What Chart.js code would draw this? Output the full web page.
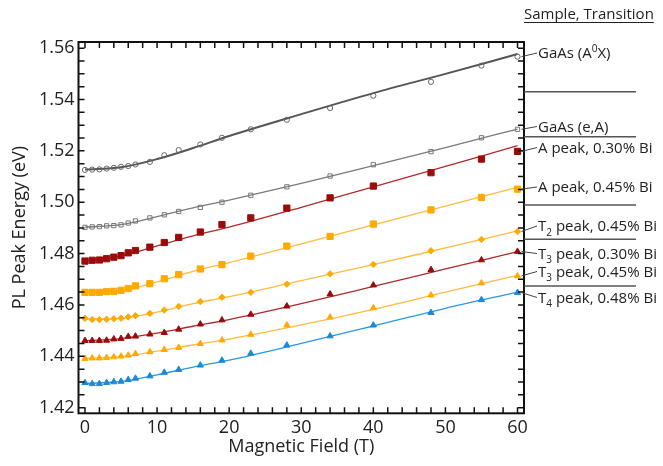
<!DOCTYPE html>
<html>
<head>
<meta charset="utf-8">
<script src="https://cdn.jsdelivr.net/npm/chart.js@4.4.1/dist/chart.umd.min.js"></script>
<style>
html,body{margin:0;padding:0;background:#fff}
#wrap{width:663px;height:466px}
</style>
</head>
<body>
<div id="wrap"><canvas id="c"></canvas></div>
<script>
// measured field values (T)
var fieldT = [0,1,2,3,4,5,6,7,9,11,13,16,19,23,28,34,40,48,55,60];

// PL peak energies (eV)
var gaasA0X = [1.5126,1.5127,1.5128,1.5131,1.5134,1.5138,1.5141,1.5147,1.5157,1.5183,1.5203,1.5225,1.5251,1.5284,1.5321,1.5367,1.5415,1.5469,1.5532,1.5567];
var gaasEA  = [1.4902,1.4904,1.4905,1.4908,1.4909,1.4912,1.4919,1.4927,1.4939,1.4951,1.4964,1.4980,1.5000,1.5027,1.5060,1.5102,1.5146,1.5197,1.5251,1.5284];
var aPeak30 = [1.4771,1.4774,1.4775,1.4780,1.4786,1.4792,1.4803,1.4812,1.4825,1.4843,1.4863,1.4884,1.4913,1.4939,1.4977,1.5017,1.5063,1.5115,1.5168,1.5198];
var aPeak45 = [1.4649,1.4649,1.4649,1.4652,1.4653,1.4657,1.4664,1.4674,1.4683,1.4702,1.4718,1.4740,1.4757,1.4790,1.4829,1.4867,1.4915,1.4970,1.5019,1.5051];
var t2Peak45 = [1.4548,1.4543,1.4543,1.4544,1.4546,1.4548,1.4553,1.4558,1.4567,1.4580,1.4594,1.4613,1.4630,1.4649,1.4681,1.4721,1.4758,1.4811,1.4855,1.4886];
var t3Peak30 = [1.4461,1.4461,1.4461,1.4462,1.4467,1.4469,1.4477,1.4478,1.4486,1.4492,1.4505,1.4525,1.4541,1.4563,1.4595,1.4642,1.4677,1.4737,1.4775,1.4808];
var t3Peak45 = [1.4391,1.4393,1.4393,1.4395,1.4397,1.4400,1.4404,1.4410,1.4417,1.4426,1.4434,1.4449,1.4463,1.4485,1.4521,1.4552,1.4588,1.4638,1.4685,1.4713];
var t4Peak48 = [1.4297,1.4293,1.4293,1.4297,1.4300,1.4302,1.4309,1.4314,1.4323,1.4337,1.4348,1.4365,1.4384,1.4411,1.4443,1.4479,1.4521,1.4570,1.4620,1.4648];

// fitted curves at these fields
var fitT = [0,5,10,15,20,30,40,50,60];
var fitA0X  = [1.5127,1.5136,1.5168,1.5211,1.5258,1.5343,1.5425,1.5500,1.5577];
var fitEA   = [1.4903,1.4913,1.4944,1.4978,1.5008,1.5073,1.5143,1.5213,1.5285];
var fitA30  = [1.4772,1.4790,1.4830,1.4869,1.4903,1.4980,1.5060,1.5140,1.5220];
var fitA45  = [1.4650,1.4656,1.4690,1.4731,1.4765,1.4838,1.4912,1.4985,1.5058];
var fitT2   = [1.4545,1.4548,1.4572,1.4605,1.4632,1.4695,1.4757,1.4822,1.4888];
var fitT3a  = [1.4461,1.4469,1.4490,1.4517,1.4543,1.4605,1.4672,1.4740,1.4808];
var fitT3b  = [1.4392,1.4399,1.4420,1.4444,1.4467,1.4522,1.4583,1.4650,1.4715];
var fitT4   = [1.4294,1.4302,1.4328,1.4358,1.4385,1.4450,1.4518,1.4587,1.4650];

var seriesNames = ['GaAs (A^0X)','GaAs (e,A)','A peak, 0.30% Bi','A peak, 0.45% Bi',
                   'T_2 peak, 0.45% Bi','T_3 peak, 0.30% Bi','T_3 peak, 0.45% Bi','T_4 peak, 0.48% Bi'];

var FONT = '"Open Sans", "Noto Sans", sans-serif';

function pts(xs, ys) {
  return xs.map(function (x, i) { return {x: x, y: ys[i]}; });
}

// one entry per series: points, fit, marker style
var series = [
  {d: gaasA0X, f: fitA0X, style: 'circle',  r: 2.6, mk: '#666', fill: 'rgba(0,0,0,0)', line: '#555', lw: 2},
  {d: gaasEA,  f: fitEA,  style: 'rect',    r: 3.0, mk: '#777', fill: 'rgba(0,0,0,0)', line: '#7a7a7a', lw: 1.3},
  {d: aPeak30, f: fitA30, style: 'rect',    r: 4.4, mk: '#9a0b0b', fill: '#9a0b0b', line: '#b02a2a', lw: 1.3},
  {d: aPeak45, f: fitA45, style: 'rect',    r: 4.4, mk: '#ffaa00', fill: '#ffaa00', line: '#ffbb40', lw: 1.3},
  {d: t2Peak45, f: fitT2, style: 'rectRot', r: 3.2, mk: '#ffaa00', fill: '#ffaa00', line: '#ffbb40', lw: 1.3},
  {d: t3Peak30, f: fitT3a, style: 'triangle', r: 3.6, mk: '#9a0b0b', fill: '#9a0b0b', line: '#b02a2a', lw: 1.3},
  {d: t3Peak45, f: fitT3b, style: 'triangle', r: 3.6, mk: '#ffaa00', fill: '#ffaa00', line: '#ffbb40', lw: 1.3},
  {d: t4Peak48, f: fitT4, style: 'triangle', r: 3.6, mk: '#1a8ad6', fill: '#1a8ad6', line: '#2a98e0', lw: 1.3}
];

var datasets = [];
series.forEach(function (s, i) {
  datasets.push({
    label: seriesNames[i] + ' fit', data: pts(fitT, s.f), showLine: true,
    borderColor: s.line, borderWidth: s.lw, pointRadius: 0,
    cubicInterpolationMode: 'monotone', order: 2
  });
  datasets.push({
    label: seriesNames[i], data: pts(fieldT, s.d), showLine: false,
    pointStyle: s.style, pointRadius: s.r, pointBorderWidth: 1,
    pointBorderColor: s.mk, pointBackgroundColor: s.fill, order: 1
  });
});

// draw "T_2" / "A^0" with small sub/superscript
function drawRich(ctx, s, x, y, fs) {
  var i = 0;
  while (i < s.length) {
    var c = s[i];
    if (c === '^' || c === '_') {
      var ch = s[i + 1];
      ctx.font = Math.round(fs * 0.68) + 'px ' + FONT;
      ctx.fillText(ch, x, y + (c === '^' ? -fs * 0.42 : fs * 0.3));
      x += ctx.measureText(ch).width;
      i += 2;
    } else {
      var j = i;
      while (j < s.length && s[j] !== '^' && s[j] !== '_') j++;
      var part = s.slice(i, j);
      ctx.font = fs + 'px ' + FONT;
      ctx.fillText(part, x, y);
      x += ctx.measureText(part).width;
      i = j;
    }
  }
}

var framePlugin = {
  id: 'frameAndNotes',
  afterDraw: function (chart) {
    var ctx = chart.ctx, a = chart.chartArea;
    var xs = chart.scales.x, ys = chart.scales.y;
    ctx.save();
    // inward ticks on all four sides
    ctx.strokeStyle = '#111';
    ctx.lineWidth = 1.5;
    ctx.beginPath();
    for (var k = 0; k <= 28; k++) {
      var py = ys.getPixelForValue(1.42 + k * 0.005);
      ctx.moveTo(a.left, py); ctx.lineTo(a.left + 6, py);
      ctx.moveTo(a.right, py); ctx.lineTo(a.right - 6, py);
    }
    for (var t = 0; t <= 60; t += 2) {
      var px = xs.getPixelForValue(t);
      ctx.moveTo(px, a.bottom); ctx.lineTo(px, a.bottom - 6);
      ctx.moveTo(px, a.top); ctx.lineTo(px, a.top + 6);
    }
    ctx.stroke();
    // frame
    ctx.lineWidth = 2;
    ctx.strokeRect(a.left, a.top, a.right - a.left, a.bottom - a.top);

    // header
    ctx.fillStyle = '#222';
    ctx.textBaseline = 'alphabetic';
    ctx.textAlign = 'left';
    ctx.font = '15px ' + FONT;
    ctx.fillText('Sample, Transition', 524, 19);
    var hw = ctx.measureText('Sample, Transition').width;
    ctx.lineWidth = 1;
    ctx.strokeStyle = '#222';
    ctx.beginPath(); ctx.moveTo(524, 22.5); ctx.lineTo(524 + hw, 22.5); ctx.stroke();

    // separators
    ctx.strokeStyle = '#555';
    ctx.lineWidth = 1.5;
    ctx.beginPath();
    [91.7, 136.7, 205, 239.3, 286].forEach(function (y) {
      ctx.moveTo(a.right, y); ctx.lineTo(636, y);
    });
    ctx.stroke();

    // labels + leaders
    var baseY = [58, 131.5, 152.5, 192, 231, 258.5, 276.5, 302.5];
    var endX = xs.getPixelForValue(fieldT[fieldT.length - 1]);
    ctx.strokeStyle = '#444';
    ctx.lineWidth = 1;
    series.forEach(function (s, i) {
      var yEnd = ys.getPixelForValue(s.d[s.d.length - 1]);
      var ty = baseY[i] - 5;
      ctx.beginPath();
      ctx.moveTo(endX + 4, yEnd);
      ctx.lineTo(537, ty);
      ctx.stroke();
      ctx.fillStyle = '#222';
      drawRich(ctx, seriesNames[i], 538, baseY[i], 15);
    });
    ctx.restore();
  }
};

function draw() {
  new Chart(document.getElementById('c'), {
    type: 'scatter',
    data: {datasets: datasets},
    options: {
      responsive: true,
      maintainAspectRatio: false,
      animation: false,
      layout: {padding: {top: 42, right: 139, left: 0, bottom: 0}},
      plugins: {legend: {display: false}, tooltip: {enabled: false}},
      scales: {
        x: {
          type: 'linear', min: -0.9, max: 60.9,
          grid: {display: false, drawTicks: false},
          border: {display: false},
          ticks: {stepSize: 10, includeBounds: false, padding: 4, color: '#222',
                  font: {family: FONT, size: 18}},
          title: {display: true, text: 'Magnetic Field (T)', color: '#222',
                  font: {family: FONT, size: 18}, padding: {top: 0, bottom: 8}},
          afterFit: function (s) { s.height = 52.7; }
        },
        y: {
          type: 'linear', min: 1.4178, max: 1.5624,
          grid: {display: false, drawTicks: false},
          border: {display: false},
          ticks: {stepSize: 0.02, includeBounds: false, padding: 4, color: '#222',
                  font: {family: FONT, size: 18},
                  callback: function (v) { return v.toFixed(2); }},
          title: {display: true, text: 'PL Peak Energy (eV)', color: '#222',
                  font: {family: FONT, size: 18}, padding: {top: 9, bottom: 0}},
          afterFit: function (s) { s.width = 78.5; }
        }
      }
    },
    plugins: [framePlugin]
  });
}

if (document.fonts && document.fonts.load) {
  document.fonts.load('18px "Open Sans"').then(draw, draw);
} else {
  draw();
}
</script>
</body>
</html>
